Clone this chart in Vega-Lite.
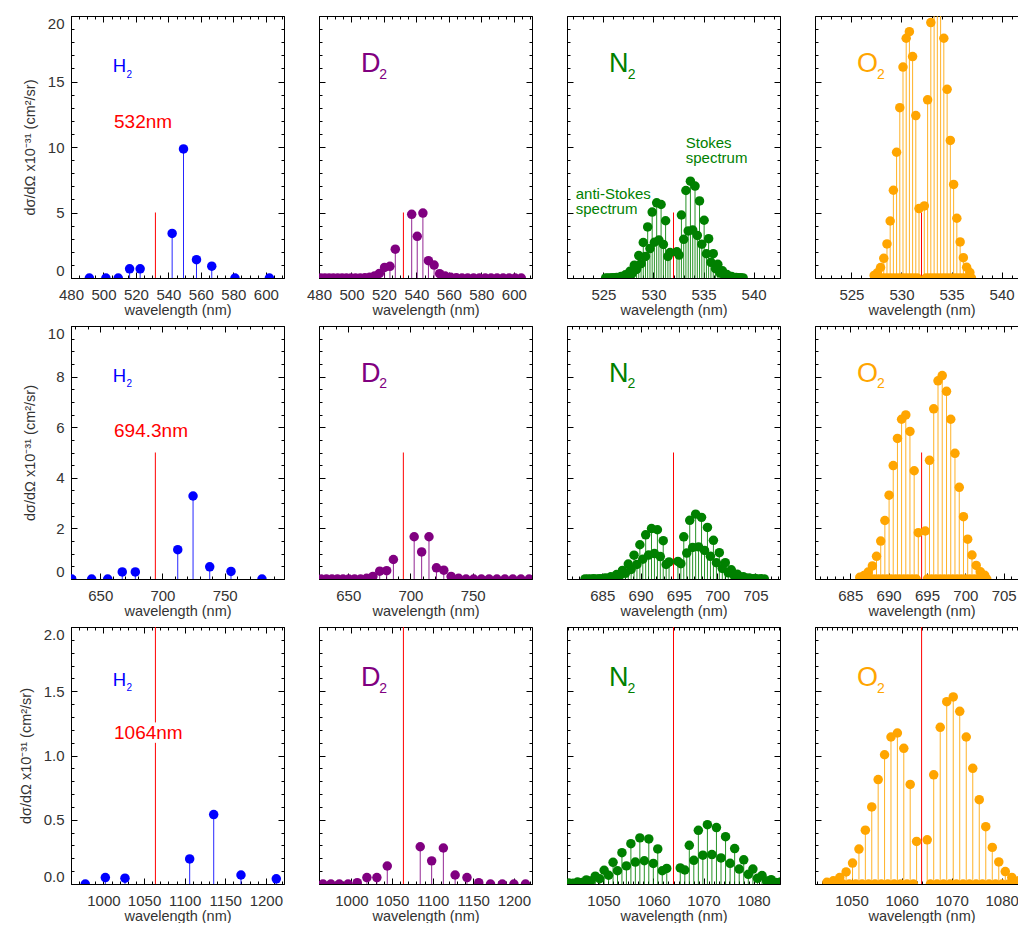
{
"$schema":"https://vega.github.io/schema/vega-lite/v6.json",
"padding":{"left":18,"top":15,"right":0,"bottom":0},
"autosize":{"type":"pad"},
"columns":4,
"spacing":{"row":48,"column":35},
"bounds":"flush",
"config":{
 "view":{"stroke":null},
 "font":"Liberation Sans",
 "rule":{"strokeOpacity":0.85},
 "axis":{"grid":false,"domainColor":"#000","tickColor":"#000","domainOpacity":1,"tickOpacity":1,"labelFont":"Liberation Sans","labelFontSize":15,"labelColor":"#333","titleFont":"Liberation Sans","titleFontSize":14.5,"titleFontWeight":"normal","titleColor":"#333","tickSize":-6,"labelOverlap":false,"labelFlush":false},
 "axisBottom":{"labelPadding":15,"titlePadding":1},
 "axisLeft":{"labelPadding":13,"titlePadding":10}
},
"datasets":{
"h1":[{"x":491.3,"y":0},{"x":501.5,"y":0},{"x":509.1,"y":0},{"x":516.1,"y":0.7},{"x":522.6,"y":0.7},{"x":542.3,"y":3.4},{"x":549.3,"y":9.85},{"x":557.3,"y":1.4},{"x":566.7,"y":0.9},{"x":581,"y":0},{"x":602.2,"y":0}],
"h2":[{"x":627.1,"y":0},{"x":643.1,"y":0},{"x":656,"y":0},{"x":667.7,"y":0.28},{"x":678.2,"y":0.28},{"x":712.3,"y":1.16},{"x":724.6,"y":3.28},{"x":738,"y":0.48},{"x":755.1,"y":0.3},{"x":780,"y":0}],
"h3":[{"x":977.6,"y":0},{"x":1002.3,"y":0.05},{"x":1026.5,"y":0.045},{"x":1106.2,"y":0.195},{"x":1135.8,"y":0.54},{"x":1169.4,"y":0.07},{"x":1212.9,"y":0.04}],
"d1":[{"x":481.1,"y":0},{"x":483.6,"y":0},{"x":486.2,"y":0},{"x":488.8,"y":0},{"x":491.5,"y":0},{"x":494.2,"y":0},{"x":496.9,"y":0},{"x":499.7,"y":0},{"x":502.5,"y":0},{"x":505.4,"y":0.01},{"x":508.3,"y":0.02},{"x":511.2,"y":0.05},{"x":514.2,"y":0.15},{"x":517.2,"y":0.35},{"x":520.4,"y":0.81},{"x":523.7,"y":0.89},{"x":527,"y":2.2},{"x":537.1,"y":4.86},{"x":540.5,"y":3.18},{"x":544,"y":4.96},{"x":547.4,"y":1.32},{"x":550.9,"y":0.99},{"x":554.3,"y":0.33},{"x":557.7,"y":0.15},{"x":561.1,"y":0.05},{"x":564.6,"y":0.02},{"x":568.1,"y":0},{"x":571.6,"y":0},{"x":575.2,"y":0},{"x":578.8,"y":0},{"x":582.4,"y":0},{"x":586,"y":0},{"x":589.7,"y":0},{"x":593.4,"y":0},{"x":597.1,"y":0},{"x":600.8,"y":0},{"x":604.6,"y":0}],
"d2":[{"x":628.2,"y":0},{"x":632.5,"y":0},{"x":636.9,"y":0},{"x":641.3,"y":0},{"x":645.8,"y":0},{"x":650.4,"y":0},{"x":655.1,"y":0},{"x":659.9,"y":0},{"x":664.8,"y":0.03},{"x":669.8,"y":0.1},{"x":675.3,"y":0.31},{"x":680.9,"y":0.33},{"x":686.3,"y":0.77},{"x":703,"y":1.67},{"x":709,"y":1.07},{"x":714.9,"y":1.67},{"x":720.9,"y":0.44},{"x":726.8,"y":0.35},{"x":732.7,"y":0.1},{"x":738.7,"y":0.03},{"x":744.7,"y":0},{"x":750.8,"y":0},{"x":757,"y":0},{"x":763.2,"y":0},{"x":769.5,"y":0},{"x":775.9,"y":0},{"x":782.3,"y":0},{"x":788.8,"y":0},{"x":795.4,"y":0}],
"d3":[{"x":955.7,"y":0},{"x":964.9,"y":0},{"x":974.7,"y":0},{"x":985,"y":0},{"x":995.8,"y":0},{"x":1007.1,"y":0.01},{"x":1019,"y":0.05},{"x":1031.3,"y":0.05},{"x":1044.1,"y":0.14},{"x":1084.7,"y":0.29},{"x":1098.8,"y":0.18},{"x":1113.2,"y":0.28},{"x":1127.7,"y":0.07},{"x":1142.3,"y":0.05},{"x":1156.8,"y":0.01},{"x":1171.3,"y":0},{"x":1185.8,"y":0},{"x":1200.1,"y":0},{"x":1214.4,"y":0}],
"n1":[{"x":532.34,"y":2.0},{"x":532.56,"y":1.75},{"x":532.79,"y":4.81},{"x":533.02,"y":2.95},{"x":533.24,"y":6.68},{"x":533.47,"y":3.59},{"x":533.69,"y":7.39},{"x":533.92,"y":3.66},{"x":534.15,"y":7.02},{"x":534.38,"y":3.25},{"x":534.6,"y":5.88},{"x":534.83,"y":2.58},{"x":535.06,"y":4.41},{"x":535.29,"y":1.85},{"x":535.51,"y":3.0},{"x":535.74,"y":1.2},{"x":535.97,"y":1.86},{"x":536.2,"y":0.71},{"x":536.43,"y":1.05},{"x":536.66,"y":0.38},{"x":536.89,"y":0.55},{"x":537.11,"y":0.19},{"x":537.34,"y":0.26},{"x":537.57,"y":0.086},{"x":537.8,"y":0.11},{"x":538.03,"y":0.036},{"x":538.26,"y":0.045},{"x":538.5,"y":0.014},{"x":538.73,"y":0.016},{"x":538.96,"y":0.005},
{"x":531.66,"y":1.94},{"x":531.44,"y":1.65},{"x":531.21,"y":4.37},{"x":530.99,"y":2.56},{"x":530.76,"y":5.61},{"x":530.54,"y":2.9},{"x":530.32,"y":5.74},{"x":530.09,"y":2.73},{"x":529.87,"y":5.03},{"x":529.65,"y":2.25},{"x":529.42,"y":3.9},{"x":529.2,"y":1.65},{"x":528.98,"y":2.71},{"x":528.76,"y":1.09},{"x":528.53,"y":1.71},{"x":528.31,"y":0.65},{"x":528.09,"y":0.98},{"x":527.87,"y":0.36},{"x":527.65,"y":0.51},{"x":527.42,"y":0.18},{"x":527.2,"y":0.245},{"x":526.98,"y":0.081},{"x":526.76,"y":0.108},{"x":526.54,"y":0.034},{"x":526.32,"y":0.043},{"x":526.1,"y":0.013},{"x":525.88,"y":0.016},{"x":525.66,"y":0.005},{"x":525.44,"y":0.005},{"x":525.22,"y":0.002}],
"n2":[{"x":694.88,"y":0.694},{"x":695.26,"y":0.607},{"x":695.64,"y":1.669},{"x":696.03,"y":1.024},{"x":696.42,"y":2.318},{"x":696.8,"y":1.246},{"x":697.19,"y":2.564},{"x":697.57,"y":1.27},{"x":697.96,"y":2.436},{"x":698.35,"y":1.128},{"x":698.73,"y":2.04},{"x":699.12,"y":0.895},{"x":699.51,"y":1.53},{"x":699.9,"y":0.642},{"x":700.28,"y":1.041},{"x":700.67,"y":0.416},{"x":701.06,"y":0.645},{"x":701.45,"y":0.246},{"x":701.84,"y":0.364},{"x":702.23,"y":0.132},{"x":702.62,"y":0.191},{"x":703.01,"y":0.066},{"x":703.4,"y":0.09},{"x":703.79,"y":0.03},{"x":704.19,"y":0.038},{"x":704.58,"y":0.012},{"x":704.97,"y":0.016},{"x":705.36,"y":0.005},{"x":705.76,"y":0.006},{"x":706.15,"y":0.002},
{"x":693.72,"y":0.673},{"x":693.34,"y":0.573},{"x":692.96,"y":1.516},{"x":692.58,"y":0.888},{"x":692.2,"y":1.947},{"x":691.81,"y":1.006},{"x":691.43,"y":1.992},{"x":691.05,"y":0.947},{"x":690.67,"y":1.745},{"x":690.29,"y":0.781},{"x":689.91,"y":1.353},{"x":689.53,"y":0.573},{"x":689.15,"y":0.94},{"x":688.77,"y":0.378},{"x":688.4,"y":0.593},{"x":688.02,"y":0.226},{"x":687.64,"y":0.34},{"x":687.26,"y":0.125},{"x":686.88,"y":0.177},{"x":686.51,"y":0.062},{"x":686.13,"y":0.085},{"x":685.75,"y":0.028},{"x":685.38,"y":0.037},{"x":685.0,"y":0.012},{"x":684.63,"y":0.015},{"x":684.25,"y":0.005},{"x":683.88,"y":0.006},{"x":683.5,"y":0.002},{"x":683.13,"y":0.002},{"x":682.75,"y":0.001}],
"n3":[{"x":1065.35,"y":0.125},{"x":1066.26,"y":0.109},{"x":1067.16,"y":0.301},{"x":1068.06,"y":0.184},{"x":1068.97,"y":0.418},{"x":1069.87,"y":0.224},{"x":1070.78,"y":0.462},{"x":1071.68,"y":0.229},{"x":1072.59,"y":0.439},{"x":1073.5,"y":0.203},{"x":1074.41,"y":0.368},{"x":1075.32,"y":0.161},{"x":1076.23,"y":0.276},{"x":1077.14,"y":0.116},{"x":1078.05,"y":0.188},{"x":1078.96,"y":0.075},{"x":1079.88,"y":0.116},{"x":1080.79,"y":0.044},{"x":1081.71,"y":0.066},{"x":1082.62,"y":0.024},{"x":1083.54,"y":0.034},{"x":1084.46,"y":0.012},{"x":1085.38,"y":0.016},{"x":1086.3,"y":0.005},
{"x":1062.65,"y":0.121},{"x":1061.75,"y":0.103},{"x":1060.85,"y":0.273},{"x":1059.96,"y":0.16},{"x":1059.06,"y":0.351},{"x":1058.16,"y":0.181},{"x":1057.27,"y":0.359},{"x":1056.37,"y":0.171},{"x":1055.48,"y":0.314},{"x":1054.58,"y":0.141},{"x":1053.69,"y":0.244},{"x":1052.8,"y":0.103},{"x":1051.91,"y":0.169},{"x":1051.02,"y":0.068},{"x":1050.13,"y":0.107},{"x":1049.24,"y":0.041},{"x":1048.36,"y":0.061},{"x":1047.47,"y":0.023},{"x":1046.58,"y":0.032},{"x":1045.7,"y":0.011},{"x":1044.81,"y":0.015},{"x":1043.93,"y":0.005},{"x":1043.04,"y":0.007},{"x":1042.16,"y":0.002}],
"o1":[{"x":532.28,"y":5.5},{"x":532.44,"y":0},{"x":532.61,"y":13.6},{"x":532.77,"y":0},{"x":532.93,"y":19.5},{"x":533.09,"y":0},{"x":533.26,"y":22.7},{"x":533.42,"y":0},{"x":533.58,"y":23.3},{"x":533.74,"y":0},{"x":533.91,"y":21.5},{"x":534.07,"y":0},{"x":534.23,"y":18.3},{"x":534.39,"y":0},{"x":534.56,"y":14.4},{"x":534.72,"y":0},{"x":534.88,"y":10.5},{"x":535.04,"y":0},{"x":535.21,"y":7.14},{"x":535.37,"y":0},{"x":535.53,"y":4.56},{"x":535.69,"y":0},{"x":535.86,"y":2.75},{"x":536.02,"y":0},{"x":536.18,"y":1.55},{"x":536.34,"y":0},{"x":536.51,"y":0.82},{"x":536.67,"y":0},{"x":536.83,"y":0.42},{"x":536.99,"y":0},
{"x":531.75,"y":5.3},{"x":531.59,"y":0},{"x":531.43,"y":12.4},{"x":531.27,"y":0},{"x":531.11,"y":16.9},{"x":530.95,"y":0},{"x":530.79,"y":18.8},{"x":530.63,"y":0},{"x":530.47,"y":18.3},{"x":530.31,"y":0},{"x":530.15,"y":16.1},{"x":529.99,"y":0},{"x":529.83,"y":13.0},{"x":529.67,"y":0},{"x":529.51,"y":9.6},{"x":529.35,"y":0},{"x":529.19,"y":6.7},{"x":529.03,"y":0},{"x":528.87,"y":4.35},{"x":528.71,"y":0},{"x":528.55,"y":2.6},{"x":528.39,"y":0},{"x":528.23,"y":1.5},{"x":528.07,"y":0},{"x":527.91,"y":0.8},{"x":527.75,"y":0},{"x":527.59,"y":0.4},{"x":527.43,"y":0},{"x":527.27,"y":0.2}],
"o2":[{"x":694.78,"y":1.898},{"x":695.05,"y":0},{"x":695.33,"y":4.692},{"x":695.61,"y":0},{"x":695.88,"y":6.728},{"x":696.16,"y":0},{"x":696.44,"y":7.832},{"x":696.72,"y":0},{"x":696.99,"y":8.039},{"x":697.26,"y":0},{"x":697.55,"y":7.418},{"x":697.83,"y":0},{"x":698.1,"y":6.314},{"x":698.37,"y":0},{"x":698.65,"y":4.968},{"x":698.93,"y":0},{"x":699.21,"y":3.623},{"x":699.48,"y":0},{"x":699.76,"y":2.463},{"x":700.04,"y":0},{"x":700.31,"y":1.573},{"x":700.59,"y":0},{"x":700.87,"y":0.949},{"x":701.15,"y":0},{"x":701.42,"y":0.535},{"x":701.69,"y":0},{"x":701.97,"y":0.283},{"x":702.25,"y":0},{"x":702.53,"y":0.145},{"x":702.8,"y":0},
{"x":693.87,"y":1.829},{"x":693.6,"y":0},{"x":693.33,"y":4.278},{"x":693.06,"y":0},{"x":692.78,"y":5.831},{"x":692.51,"y":0},{"x":692.24,"y":6.486},{"x":691.97,"y":0},{"x":691.69,"y":6.314},{"x":691.42,"y":0},{"x":691.15,"y":5.555},{"x":690.88,"y":0},{"x":690.6,"y":4.485},{"x":690.33,"y":0},{"x":690.06,"y":3.312},{"x":689.79,"y":0},{"x":689.51,"y":2.312},{"x":689.24,"y":0},{"x":688.97,"y":1.501},{"x":688.7,"y":0},{"x":688.42,"y":0.897},{"x":688.15,"y":0},{"x":687.88,"y":0.518},{"x":687.61,"y":0},{"x":687.33,"y":0.276},{"x":687.06,"y":0},{"x":686.79,"y":0.138},{"x":686.52,"y":0},{"x":686.24,"y":0.069}],
"o3":[{"x":1065.12,"y":0.344},{"x":1065.76,"y":0},{"x":1066.42,"y":0.85},{"x":1067.08,"y":0},{"x":1067.72,"y":1.219},{"x":1068.36,"y":0},{"x":1069.02,"y":1.419},{"x":1069.68,"y":0},{"x":1070.32,"y":1.456},{"x":1070.96,"y":0},{"x":1071.62,"y":1.344},{"x":1072.28,"y":0},{"x":1072.92,"y":1.144},{"x":1073.56,"y":0},{"x":1074.22,"y":0.9},{"x":1074.88,"y":0},{"x":1075.52,"y":0.656},{"x":1076.16,"y":0},{"x":1076.82,"y":0.446},{"x":1077.48,"y":0},{"x":1078.12,"y":0.285},{"x":1078.76,"y":0},{"x":1079.42,"y":0.172},{"x":1080.08,"y":0},{"x":1080.72,"y":0.097},{"x":1081.36,"y":0},{"x":1082.02,"y":0.051},{"x":1082.68,"y":0},{"x":1083.32,"y":0.026},{"x":1083.96,"y":0},
{"x":1063.0,"y":0.331},{"x":1062.36,"y":0},{"x":1061.72,"y":0.775},{"x":1061.08,"y":0},{"x":1060.44,"y":1.056},{"x":1059.8,"y":0},{"x":1059.16,"y":1.175},{"x":1058.52,"y":0},{"x":1057.88,"y":1.144},{"x":1057.24,"y":0},{"x":1056.6,"y":1.006},{"x":1055.96,"y":0},{"x":1055.32,"y":0.813},{"x":1054.68,"y":0},{"x":1054.04,"y":0.6},{"x":1053.4,"y":0},{"x":1052.76,"y":0.419},{"x":1052.12,"y":0},{"x":1051.48,"y":0.272},{"x":1050.84,"y":0},{"x":1050.2,"y":0.163},{"x":1049.56,"y":0},{"x":1048.92,"y":0.094},{"x":1048.28,"y":0},{"x":1047.64,"y":0.05},{"x":1047.0,"y":0},{"x":1046.36,"y":0.025},{"x":1045.72,"y":0},{"x":1045.08,"y":0.013}]
},
"concat":[
{"width":213,"height":262,"resolve":{"axis":{"x":"independent","y":"independent"}},"layer":[
 {"data":{"values":[{}]},"mark":{"type":"rule","color":"#ff0000","stroke":"#ff0000","strokeOpacity":1,"clip":true},"encoding":{"x":{"datum":532,"type":"quantitative","scale":{"domain":[480,611.2],"nice":false,"zero":false},"axis":{"orient":"bottom","values":[480,485,490,495,500,505,510,515,520,525,530,535,540,545,550,555,560,565,570,575,580,585,590,595,600,605,610],"labels":false,"title":null,"tickSize":-3,"domain":false}},"y":{"datum":0,"type":"quantitative","scale":{"domain":[0,20],"nice":false,"zero":false},"axis":{"orient":"left","values":[0,1,2,3,4,5,6,7,8,9,10,11,12,13,14,15,16,17,18,19,20],"labels":false,"title":null,"tickSize":-3,"domain":false}},"y2":{"datum":5}}},
 {"data":{"name":"h1"},"mark":{"type":"rule","color":"#0000ff","clip":true},"encoding":{"x":{"field":"x","type":"quantitative","axis":{"orient":"top","values":[480,500,520,540,560,580,600],"labels":false,"title":null}},"y":{"field":"y","type":"quantitative","axis":{"orient":"right","values":[0,5,10,15,20],"labels":false,"title":null}},"y2":{"datum":0}}},
 {"data":{"name":"h1"},"mark":{"type":"circle","color":"#0000ff","opacity":1,"size":90,"clip":true},"encoding":{"x":{"field":"x","type":"quantitative","axis":{"orient":"bottom","values":[480,500,520,540,560,580,600],"format":"d","title":"wavelength (nm)"}},"y":{"field":"y","type":"quantitative","axis":{"orient":"left","values":[0,5,10,15,20],"format":"d","labelFlush":true,"title":"dσ/dΩ x10⁻³¹ (cm²/sr)"}}}},
 {"data":{"values":[{}]},"mark":{"type":"text","text":"H","color":"#0000ff","fontSize":18.5,"align":"left","baseline":"alphabetic"},"encoding":{"x":{"datum":505.7,"type":"quantitative","axis":{"orient":"top","values":[480,485,490,495,500,505,510,515,520,525,530,535,540,545,550,555,560,565,570,575,580,585,590,595,600,605,610],"labels":false,"title":null,"tickSize":-3,"domain":false}},"y":{"datum":15.7,"type":"quantitative","axis":{"orient":"right","values":[0,1,2,3,4,5,6,7,8,9,10,11,12,13,14,15,16,17,18,19,20],"labels":false,"title":null,"tickSize":-3,"domain":false}}}},
 {"data":{"values":[{}]},"mark":{"type":"text","text":"2","color":"#0000ff","fontSize":10,"align":"left","baseline":"alphabetic","dx":13.8,"dy":5.3},"encoding":{"x":{"datum":505.7,"type":"quantitative","axis":null},"y":{"datum":15.7,"type":"quantitative","axis":null}}},
 {"data":{"values":[{}]},"mark":{"type":"text","text":"532nm","color":"#ff0000","fontSize":19,"align":"left","baseline":"alphabetic"},"encoding":{"x":{"datum":506.5,"type":"quantitative","axis":null},"y":{"datum":11.45,"type":"quantitative","axis":null}}}
]},
{"width":213,"height":262,"resolve":{"axis":{"x":"independent","y":"independent"}},"layer":[
 {"data":{"values":[{}]},"mark":{"type":"rule","color":"#ff0000","stroke":"#ff0000","strokeOpacity":1,"clip":true},"encoding":{"x":{"datum":532,"type":"quantitative","scale":{"domain":[480,611.2],"nice":false,"zero":false},"axis":{"orient":"bottom","values":[480,485,490,495,500,505,510,515,520,525,530,535,540,545,550,555,560,565,570,575,580,585,590,595,600,605,610],"labels":false,"title":null,"tickSize":-3,"domain":false}},"y":{"datum":0,"type":"quantitative","scale":{"domain":[0,20],"nice":false,"zero":false},"axis":{"orient":"left","values":[0,1,2,3,4,5,6,7,8,9,10,11,12,13,14,15,16,17,18,19,20],"labels":false,"title":null,"tickSize":-3,"domain":false}},"y2":{"datum":5}}},
 {"data":{"name":"d1"},"mark":{"type":"rule","color":"#800080","clip":true},"encoding":{"x":{"field":"x","type":"quantitative","axis":{"orient":"top","values":[480,500,520,540,560,580,600],"labels":false,"title":null}},"y":{"field":"y","type":"quantitative","axis":{"orient":"right","values":[0,5,10,15,20],"labels":false,"title":null}},"y2":{"datum":0}}},
 {"data":{"name":"d1"},"mark":{"type":"circle","color":"#800080","opacity":1,"size":90,"clip":true},"encoding":{"x":{"field":"x","type":"quantitative","axis":{"orient":"bottom","values":[480,500,520,540,560,580,600],"format":"d","title":"wavelength (nm)"}},"y":{"field":"y","type":"quantitative","axis":{"orient":"left","values":[0,5,10,15,20],"labels":false,"title":null}}}},
 {"data":{"values":[{}]},"mark":{"type":"text","text":"D","color":"#800080","fontSize":27,"align":"left","baseline":"alphabetic"},"encoding":{"x":{"datum":505.9,"type":"quantitative","axis":{"orient":"top","values":[480,485,490,495,500,505,510,515,520,525,530,535,540,545,550,555,560,565,570,575,580,585,590,595,600,605,610],"labels":false,"title":null,"tickSize":-3,"domain":false}},"y":{"datum":15.7,"type":"quantitative","axis":{"orient":"right","values":[0,1,2,3,4,5,6,7,8,9,10,11,12,13,14,15,16,17,18,19,20],"labels":false,"title":null,"tickSize":-3,"domain":false}}}},
 {"data":{"values":[{}]},"mark":{"type":"text","text":"2","color":"#800080","fontSize":14,"align":"left","baseline":"alphabetic","dx":18.3,"dy":6.6},"encoding":{"x":{"datum":505.9,"type":"quantitative","axis":null},"y":{"datum":15.7,"type":"quantitative","axis":null}}}
]},
{"width":213,"height":262,"resolve":{"axis":{"x":"independent","y":"independent"}},"layer":[
 {"data":{"values":[{}]},"mark":{"type":"rule","color":"#ff0000","stroke":"#ff0000","strokeOpacity":1,"clip":true},"encoding":{"x":{"datum":532,"type":"quantitative","scale":{"domain":[521.36,542.64],"nice":false,"zero":false},"axis":{"orient":"bottom","values":[522,523,524,525,526,527,528,529,530,531,532,533,534,535,536,537,538,539,540,541,542],"labels":false,"title":null,"tickSize":-3,"domain":false}},"y":{"datum":0,"type":"quantitative","scale":{"domain":[0,20],"nice":false,"zero":false},"axis":{"orient":"left","values":[0,1,2,3,4,5,6,7,8,9,10,11,12,13,14,15,16,17,18,19,20],"labels":false,"title":null,"tickSize":-3,"domain":false}},"y2":{"datum":5}}},
 {"data":{"name":"n1"},"mark":{"type":"rule","color":"#008000","clip":true},"encoding":{"x":{"field":"x","type":"quantitative","axis":{"orient":"top","values":[525,530,535,540],"labels":false,"title":null}},"y":{"field":"y","type":"quantitative","axis":{"orient":"right","values":[0,5,10,15,20],"labels":false,"title":null}},"y2":{"datum":0}}},
 {"data":{"name":"n1"},"mark":{"type":"circle","color":"#008000","opacity":1,"size":90,"clip":true},"encoding":{"x":{"field":"x","type":"quantitative","axis":{"orient":"bottom","values":[525,530,535,540],"format":"d","title":"wavelength (nm)"}},"y":{"field":"y","type":"quantitative","axis":{"orient":"left","values":[0,5,10,15,20],"labels":false,"title":null}}}},
 {"data":{"values":[{}]},"mark":{"type":"text","text":"N","color":"#008000","fontSize":27,"align":"left","baseline":"alphabetic"},"encoding":{"x":{"datum":525.56,"type":"quantitative","axis":{"orient":"top","values":[522,523,524,525,526,527,528,529,530,531,532,533,534,535,536,537,538,539,540,541,542],"labels":false,"title":null,"tickSize":-3,"domain":false}},"y":{"datum":15.7,"type":"quantitative","axis":{"orient":"right","values":[0,1,2,3,4,5,6,7,8,9,10,11,12,13,14,15,16,17,18,19,20],"labels":false,"title":null,"tickSize":-3,"domain":false}}}},
 {"data":{"values":[{}]},"mark":{"type":"text","text":"2","color":"#008000","fontSize":14,"align":"left","baseline":"alphabetic","dx":18.6,"dy":6.6},"encoding":{"x":{"datum":525.56,"type":"quantitative","axis":null},"y":{"datum":15.7,"type":"quantitative","axis":null}}},
 {"data":{"values":[{}]},"mark":{"type":"text","text":["Stokes","spectrum"],"color":"#008000","fontSize":15,"lineHeight":15,"align":"left","baseline":"alphabetic"},"encoding":{"x":{"datum":533.22,"type":"quantitative","axis":null},"y":{"datum":9.95,"type":"quantitative","axis":null}}},
 {"data":{"values":[{}]},"mark":{"type":"text","text":["anti-Stokes","spectrum"],"color":"#008000","fontSize":15,"lineHeight":15,"align":"left","baseline":"alphabetic"},"encoding":{"x":{"datum":522.23,"type":"quantitative","axis":null},"y":{"datum":6.0,"type":"quantitative","axis":null}}}
]},
{"width":204,"height":262,"resolve":{"axis":{"x":"independent","y":"independent"}},"layer":[
 {"data":{"values":[{}]},"mark":{"type":"rule","color":"#ff0000","stroke":"#ff0000","strokeOpacity":1,"clip":true},"encoding":{"x":{"datum":532,"type":"quantitative","scale":{"domain":[521.36,541.74],"nice":false,"zero":false},"axis":{"orient":"bottom","values":[522,523,524,525,526,527,528,529,530,531,532,533,534,535,536,537,538,539,540,541],"labels":false,"title":null,"tickSize":-3,"domain":false}},"y":{"datum":0,"type":"quantitative","scale":{"domain":[0,20],"nice":false,"zero":false},"axis":{"orient":"left","values":[0,1,2,3,4,5,6,7,8,9,10,11,12,13,14,15,16,17,18,19,20],"labels":false,"title":null,"tickSize":-3,"domain":false}},"y2":{"datum":5}}},
 {"data":{"name":"o1"},"mark":{"type":"rule","color":"#ffa500","clip":true},"encoding":{"x":{"field":"x","type":"quantitative","axis":{"orient":"top","values":[525,530,535,540],"labels":false,"title":null}},"y":{"field":"y","type":"quantitative","axis":null},"y2":{"datum":0}}},
 {"data":{"name":"o1"},"mark":{"type":"circle","color":"#ffa500","opacity":1,"size":90,"clip":true},"encoding":{"x":{"field":"x","type":"quantitative","axis":{"orient":"bottom","values":[525,530,535,540],"format":"d","title":"wavelength (nm)","titleX":106.5}},"y":{"field":"y","type":"quantitative","axis":{"orient":"left","values":[0,5,10,15,20],"labels":false,"title":null}}}},
 {"data":{"values":[{}]},"mark":{"type":"text","text":"O","color":"#ffa500","fontSize":27,"align":"left","baseline":"alphabetic"},"encoding":{"x":{"datum":525.56,"type":"quantitative","axis":{"orient":"top","values":[522,523,524,525,526,527,528,529,530,531,532,533,534,535,536,537,538,539,540,541],"labels":false,"title":null,"tickSize":-3,"domain":false}},"y":{"datum":15.7,"type":"quantitative","axis":null}}},
 {"data":{"values":[{}]},"mark":{"type":"text","text":"2","color":"#ffa500","fontSize":14,"align":"left","baseline":"alphabetic","dx":20,"dy":6.6},"encoding":{"x":{"datum":525.56,"type":"quantitative","axis":null},"y":{"datum":15.7,"type":"quantitative","axis":null}}}
]},
{"width":213,"height":253,"resolve":{"axis":{"x":"independent","y":"independent"}},"layer":[
 {"data":{"values":[{}]},"mark":{"type":"rule","color":"#ff0000","stroke":"#ff0000","strokeOpacity":1,"clip":true},"encoding":{"x":{"datum":694.3,"type":"quantitative","scale":{"domain":[626.5,797.7],"nice":false,"zero":false},"axis":{"orient":"bottom","values":[630,640,650,660,670,680,690,700,710,720,730,740,750,760,770,780,790],"labels":false,"title":null,"tickSize":-3,"domain":false}},"y":{"datum":0,"type":"quantitative","scale":{"domain":[0,10],"nice":false,"zero":false},"axis":{"orient":"left","values":[0,0.5,1,1.5,2,2.5,3,3.5,4,4.5,5,5.5,6,6.5,7,7.5,8,8.5,9,9.5,10],"labels":false,"title":null,"tickSize":-3,"domain":false}},"y2":{"datum":5}}},
 {"data":{"name":"h2"},"mark":{"type":"rule","color":"#0000ff","clip":true},"encoding":{"x":{"field":"x","type":"quantitative","axis":{"orient":"top","values":[650,700,750],"labels":false,"title":null}},"y":{"field":"y","type":"quantitative","axis":{"orient":"right","values":[0,2,4,6,8,10],"labels":false,"title":null}},"y2":{"datum":0}}},
 {"data":{"name":"h2"},"mark":{"type":"circle","color":"#0000ff","opacity":1,"size":90,"clip":true},"encoding":{"x":{"field":"x","type":"quantitative","axis":{"orient":"bottom","values":[650,700,750],"format":"d","title":"wavelength (nm)"}},"y":{"field":"y","type":"quantitative","axis":{"orient":"left","values":[0,2,4,6,8,10],"format":"d","labelFlush":true,"title":"dσ/dΩ x10⁻³¹ (cm²/sr)"}}}},
 {"data":{"values":[{}]},"mark":{"type":"text","text":"H","color":"#0000ff","fontSize":18.5,"align":"left","baseline":"alphabetic"},"encoding":{"x":{"datum":660.1,"type":"quantitative","axis":{"orient":"top","values":[630,640,650,660,670,680,690,700,710,720,730,740,750,760,770,780,790],"labels":false,"title":null,"tickSize":-3,"domain":false}},"y":{"datum":7.8,"type":"quantitative","axis":{"orient":"right","values":[0,0.5,1,1.5,2,2.5,3,3.5,4,4.5,5,5.5,6,6.5,7,7.5,8,8.5,9,9.5,10],"labels":false,"title":null,"tickSize":-3,"domain":false}}}},
 {"data":{"values":[{}]},"mark":{"type":"text","text":"2","color":"#0000ff","fontSize":10,"align":"left","baseline":"alphabetic","dx":13.8,"dy":5.3},"encoding":{"x":{"datum":660.1,"type":"quantitative","axis":null},"y":{"datum":7.8,"type":"quantitative","axis":null}}},
 {"data":{"values":[{}]},"mark":{"type":"text","text":"694.3nm","color":"#ff0000","fontSize":19,"align":"left","baseline":"alphabetic"},"encoding":{"x":{"datum":661.1,"type":"quantitative","axis":null},"y":{"datum":5.61,"type":"quantitative","axis":null}}}
]},
{"width":213,"height":253,"resolve":{"axis":{"x":"independent","y":"independent"}},"layer":[
 {"data":{"values":[{}]},"mark":{"type":"rule","color":"#ff0000","stroke":"#ff0000","strokeOpacity":1,"clip":true},"encoding":{"x":{"datum":694.3,"type":"quantitative","scale":{"domain":[626.5,797.7],"nice":false,"zero":false},"axis":{"orient":"bottom","values":[630,640,650,660,670,680,690,700,710,720,730,740,750,760,770,780,790],"labels":false,"title":null,"tickSize":-3,"domain":false}},"y":{"datum":0,"type":"quantitative","scale":{"domain":[0,10],"nice":false,"zero":false},"axis":{"orient":"left","values":[0,0.5,1,1.5,2,2.5,3,3.5,4,4.5,5,5.5,6,6.5,7,7.5,8,8.5,9,9.5,10],"labels":false,"title":null,"tickSize":-3,"domain":false}},"y2":{"datum":5}}},
 {"data":{"name":"d2"},"mark":{"type":"rule","color":"#800080","clip":true},"encoding":{"x":{"field":"x","type":"quantitative","axis":{"orient":"top","values":[650,700,750],"labels":false,"title":null}},"y":{"field":"y","type":"quantitative","axis":{"orient":"right","values":[0,2,4,6,8,10],"labels":false,"title":null}},"y2":{"datum":0}}},
 {"data":{"name":"d2"},"mark":{"type":"circle","color":"#800080","opacity":1,"size":90,"clip":true},"encoding":{"x":{"field":"x","type":"quantitative","axis":{"orient":"bottom","values":[650,700,750],"format":"d","title":"wavelength (nm)"}},"y":{"field":"y","type":"quantitative","axis":{"orient":"left","values":[0,2,4,6,8,10],"labels":false,"title":null}}}},
 {"data":{"values":[{}]},"mark":{"type":"text","text":"D","color":"#800080","fontSize":27,"align":"left","baseline":"alphabetic"},"encoding":{"x":{"datum":660.3,"type":"quantitative","axis":{"orient":"top","values":[630,640,650,660,670,680,690,700,710,720,730,740,750,760,770,780,790],"labels":false,"title":null,"tickSize":-3,"domain":false}},"y":{"datum":7.8,"type":"quantitative","axis":{"orient":"right","values":[0,0.5,1,1.5,2,2.5,3,3.5,4,4.5,5,5.5,6,6.5,7,7.5,8,8.5,9,9.5,10],"labels":false,"title":null,"tickSize":-3,"domain":false}}}},
 {"data":{"values":[{}]},"mark":{"type":"text","text":"2","color":"#800080","fontSize":14,"align":"left","baseline":"alphabetic","dx":18.3,"dy":6.6},"encoding":{"x":{"datum":660.3,"type":"quantitative","axis":null},"y":{"datum":7.8,"type":"quantitative","axis":null}}}
]},
{"width":213,"height":253,"resolve":{"axis":{"x":"independent","y":"independent"}},"layer":[
 {"data":{"values":[{}]},"mark":{"type":"rule","color":"#ff0000","stroke":"#ff0000","strokeOpacity":1,"clip":true},"encoding":{"x":{"datum":694.3,"type":"quantitative","scale":{"domain":[680.4,708.2],"nice":false,"zero":false},"axis":{"orient":"bottom","values":[681,682,683,684,685,686,687,688,689,690,691,692,693,694,695,696,697,698,699,700,701,702,703,704,705,706,707,708],"labels":false,"title":null,"tickSize":-3,"domain":false}},"y":{"datum":0,"type":"quantitative","scale":{"domain":[0,10],"nice":false,"zero":false},"axis":{"orient":"left","values":[0,0.5,1,1.5,2,2.5,3,3.5,4,4.5,5,5.5,6,6.5,7,7.5,8,8.5,9,9.5,10],"labels":false,"title":null,"tickSize":-3,"domain":false}},"y2":{"datum":5}}},
 {"data":{"name":"n2"},"mark":{"type":"rule","color":"#008000","clip":true},"encoding":{"x":{"field":"x","type":"quantitative","axis":{"orient":"top","values":[685,690,695,700,705],"labels":false,"title":null}},"y":{"field":"y","type":"quantitative","axis":{"orient":"right","values":[0,2,4,6,8,10],"labels":false,"title":null}},"y2":{"datum":0}}},
 {"data":{"name":"n2"},"mark":{"type":"circle","color":"#008000","opacity":1,"size":90,"clip":true},"encoding":{"x":{"field":"x","type":"quantitative","axis":{"orient":"bottom","values":[685,690,695,700,705],"format":"d","title":"wavelength (nm)"}},"y":{"field":"y","type":"quantitative","axis":{"orient":"left","values":[0,2,4,6,8,10],"labels":false,"title":null}}}},
 {"data":{"values":[{}]},"mark":{"type":"text","text":"N","color":"#008000","fontSize":27,"align":"left","baseline":"alphabetic"},"encoding":{"x":{"datum":685.88,"type":"quantitative","axis":{"orient":"top","values":[681,682,683,684,685,686,687,688,689,690,691,692,693,694,695,696,697,698,699,700,701,702,703,704,705,706,707,708],"labels":false,"title":null,"tickSize":-3,"domain":false}},"y":{"datum":7.8,"type":"quantitative","axis":{"orient":"right","values":[0,0.5,1,1.5,2,2.5,3,3.5,4,4.5,5,5.5,6,6.5,7,7.5,8,8.5,9,9.5,10],"labels":false,"title":null,"tickSize":-3,"domain":false}}}},
 {"data":{"values":[{}]},"mark":{"type":"text","text":"2","color":"#008000","fontSize":14,"align":"left","baseline":"alphabetic","dx":18.6,"dy":6.6},"encoding":{"x":{"datum":685.88,"type":"quantitative","axis":null},"y":{"datum":7.8,"type":"quantitative","axis":null}}}
]},
{"width":204,"height":253,"resolve":{"axis":{"x":"independent","y":"independent"}},"layer":[
 {"data":{"values":[{}]},"mark":{"type":"rule","color":"#ff0000","stroke":"#ff0000","strokeOpacity":1,"clip":true},"encoding":{"x":{"datum":694.3,"type":"quantitative","scale":{"domain":[680.4,707.0],"nice":false,"zero":false},"axis":{"orient":"bottom","values":[681,682,683,684,685,686,687,688,689,690,691,692,693,694,695,696,697,698,699,700,701,702,703,704,705,706],"labels":false,"title":null,"tickSize":-3,"domain":false}},"y":{"datum":0,"type":"quantitative","scale":{"domain":[0,10],"nice":false,"zero":false},"axis":{"orient":"left","values":[0,0.5,1,1.5,2,2.5,3,3.5,4,4.5,5,5.5,6,6.5,7,7.5,8,8.5,9,9.5,10],"labels":false,"title":null,"tickSize":-3,"domain":false}},"y2":{"datum":5}}},
 {"data":{"name":"o2"},"mark":{"type":"rule","color":"#ffa500","clip":true},"encoding":{"x":{"field":"x","type":"quantitative","axis":{"orient":"top","values":[685,690,695,700,705],"labels":false,"title":null}},"y":{"field":"y","type":"quantitative","axis":null},"y2":{"datum":0}}},
 {"data":{"name":"o2"},"mark":{"type":"circle","color":"#ffa500","opacity":1,"size":90,"clip":true},"encoding":{"x":{"field":"x","type":"quantitative","axis":{"orient":"bottom","values":[685,690,695,700,705],"format":"d","title":"wavelength (nm)","titleX":106.5}},"y":{"field":"y","type":"quantitative","axis":{"orient":"left","values":[0,2,4,6,8,10],"labels":false,"title":null}}}},
 {"data":{"values":[{}]},"mark":{"type":"text","text":"O","color":"#ffa500","fontSize":27,"align":"left","baseline":"alphabetic"},"encoding":{"x":{"datum":685.88,"type":"quantitative","axis":{"orient":"top","values":[681,682,683,684,685,686,687,688,689,690,691,692,693,694,695,696,697,698,699,700,701,702,703,704,705,706],"labels":false,"title":null,"tickSize":-3,"domain":false}},"y":{"datum":7.8,"type":"quantitative","axis":null}}},
 {"data":{"values":[{}]},"mark":{"type":"text","text":"2","color":"#ffa500","fontSize":14,"align":"left","baseline":"alphabetic","dx":20,"dy":6.6},"encoding":{"x":{"datum":685.88,"type":"quantitative","axis":null},"y":{"datum":7.8,"type":"quantitative","axis":null}}}
]},
{"width":213,"height":257,"resolve":{"axis":{"x":"independent","y":"independent"}},"layer":[
 {"data":{"values":[{}]},"mark":{"type":"rule","color":"#ff0000","stroke":"#ff0000","strokeOpacity":1,"clip":true},"encoding":{"x":{"datum":1064,"type":"quantitative","scale":{"domain":[960,1222.4],"nice":false,"zero":false},"axis":{"orient":"bottom","values":[960,970,980,990,1000,1010,1020,1030,1040,1050,1060,1070,1080,1090,1100,1110,1120,1130,1140,1150,1160,1170,1180,1190,1200,1210,1220],"labels":false,"title":null,"tickSize":-3,"domain":false}},"y":{"datum":0,"type":"quantitative","scale":{"domain":[0,2],"nice":false,"zero":false},"axis":{"orient":"left","values":[0,0.1,0.2,0.3,0.4,0.5,0.6,0.7,0.8,0.9,1,1.1,1.2,1.3,1.4,1.5,1.6,1.7,1.8,1.9,2],"labels":false,"title":null,"tickSize":-3,"domain":false}},"y2":{"datum":5}}},
 {"data":{"name":"h3"},"mark":{"type":"rule","color":"#0000ff","clip":true},"encoding":{"x":{"field":"x","type":"quantitative","axis":{"orient":"top","values":[1000,1050,1100,1150,1200],"labels":false,"title":null}},"y":{"field":"y","type":"quantitative","axis":{"orient":"right","values":[0,0.5,1,1.5,2],"labels":false,"title":null}},"y2":{"datum":0}}},
 {"data":{"name":"h3"},"mark":{"type":"circle","color":"#0000ff","opacity":1,"size":90,"clip":true},"encoding":{"x":{"field":"x","type":"quantitative","axis":{"orient":"bottom","values":[1000,1050,1100,1150,1200],"format":"d","title":"wavelength (nm)"}},"y":{"field":"y","type":"quantitative","axis":{"orient":"left","values":[0,0.5,1,1.5,2],"format":".1f","labelFlush":true,"title":"dσ/dΩ x10⁻³¹ (cm²/sr)"}}}},
 {"data":{"values":[{}]},"mark":{"type":"text","text":"H","color":"#0000ff","fontSize":18.5,"align":"left","baseline":"alphabetic"},"encoding":{"x":{"datum":1011.5,"type":"quantitative","axis":{"orient":"top","values":[960,970,980,990,1000,1010,1020,1030,1040,1050,1060,1070,1080,1090,1100,1110,1120,1130,1140,1150,1160,1170,1180,1190,1200,1210,1220],"labels":false,"title":null,"tickSize":-3,"domain":false}},"y":{"datum":1.54,"type":"quantitative","axis":{"orient":"right","values":[0,0.1,0.2,0.3,0.4,0.5,0.6,0.7,0.8,0.9,1,1.1,1.2,1.3,1.4,1.5,1.6,1.7,1.8,1.9,2],"labels":false,"title":null,"tickSize":-3,"domain":false}}}},
 {"data":{"values":[{}]},"mark":{"type":"text","text":"2","color":"#0000ff","fontSize":10,"align":"left","baseline":"alphabetic","dx":13.8,"dy":5.3},"encoding":{"x":{"datum":1011.5,"type":"quantitative","axis":null},"y":{"datum":1.54,"type":"quantitative","axis":null}}},
 {"data":{"values":[{}]},"mark":{"type":"text","text":"1064nm","color":"#ffffff","stroke":"#ffffff","strokeWidth":7,"fontSize":19,"align":"left","baseline":"alphabetic"},"encoding":{"x":{"datum":1013,"type":"quantitative","axis":null},"y":{"datum":1.13,"type":"quantitative","axis":null}}},
 {"data":{"values":[{}]},"mark":{"type":"text","text":"1064nm","color":"#ff0000","fontSize":19,"align":"left","baseline":"alphabetic"},"encoding":{"x":{"datum":1013,"type":"quantitative","axis":null},"y":{"datum":1.13,"type":"quantitative","axis":null}}}
]},
{"width":213,"height":257,"resolve":{"axis":{"x":"independent","y":"independent"}},"layer":[
 {"data":{"values":[{}]},"mark":{"type":"rule","color":"#ff0000","stroke":"#ff0000","strokeOpacity":1,"clip":true},"encoding":{"x":{"datum":1064,"type":"quantitative","scale":{"domain":[960,1222.4],"nice":false,"zero":false},"axis":{"orient":"bottom","values":[960,970,980,990,1000,1010,1020,1030,1040,1050,1060,1070,1080,1090,1100,1110,1120,1130,1140,1150,1160,1170,1180,1190,1200,1210,1220],"labels":false,"title":null,"tickSize":-3,"domain":false}},"y":{"datum":0,"type":"quantitative","scale":{"domain":[0,2],"nice":false,"zero":false},"axis":{"orient":"left","values":[0,0.1,0.2,0.3,0.4,0.5,0.6,0.7,0.8,0.9,1,1.1,1.2,1.3,1.4,1.5,1.6,1.7,1.8,1.9,2],"labels":false,"title":null,"tickSize":-3,"domain":false}},"y2":{"datum":5}}},
 {"data":{"name":"d3"},"mark":{"type":"rule","color":"#800080","clip":true},"encoding":{"x":{"field":"x","type":"quantitative","axis":{"orient":"top","values":[1000,1050,1100,1150,1200],"labels":false,"title":null}},"y":{"field":"y","type":"quantitative","axis":{"orient":"right","values":[0,0.5,1,1.5,2],"labels":false,"title":null}},"y2":{"datum":0}}},
 {"data":{"name":"d3"},"mark":{"type":"circle","color":"#800080","opacity":1,"size":90,"clip":true},"encoding":{"x":{"field":"x","type":"quantitative","axis":{"orient":"bottom","values":[1000,1050,1100,1150,1200],"format":"d","title":"wavelength (nm)"}},"y":{"field":"y","type":"quantitative","axis":{"orient":"left","values":[0,0.5,1,1.5,2],"labels":false,"title":null}}}},
 {"data":{"values":[{}]},"mark":{"type":"text","text":"D","color":"#800080","fontSize":27,"align":"left","baseline":"alphabetic"},"encoding":{"x":{"datum":1011.7,"type":"quantitative","axis":{"orient":"top","values":[960,970,980,990,1000,1010,1020,1030,1040,1050,1060,1070,1080,1090,1100,1110,1120,1130,1140,1150,1160,1170,1180,1190,1200,1210,1220],"labels":false,"title":null,"tickSize":-3,"domain":false}},"y":{"datum":1.54,"type":"quantitative","axis":{"orient":"right","values":[0,0.1,0.2,0.3,0.4,0.5,0.6,0.7,0.8,0.9,1,1.1,1.2,1.3,1.4,1.5,1.6,1.7,1.8,1.9,2],"labels":false,"title":null,"tickSize":-3,"domain":false}}}},
 {"data":{"values":[{}]},"mark":{"type":"text","text":"2","color":"#800080","fontSize":14,"align":"left","baseline":"alphabetic","dx":18.3,"dy":6.6},"encoding":{"x":{"datum":1011.7,"type":"quantitative","axis":null},"y":{"datum":1.54,"type":"quantitative","axis":null}}}
]},
{"width":213,"height":257,"resolve":{"axis":{"x":"independent","y":"independent"}},"layer":[
 {"data":{"values":[{}]},"mark":{"type":"rule","color":"#ff0000","stroke":"#ff0000","strokeOpacity":1,"clip":true},"encoding":{"x":{"datum":1064,"type":"quantitative","scale":{"domain":[1042.7,1085.3],"nice":false,"zero":false},"axis":{"orient":"bottom","values":[1043,1044,1045,1046,1047,1048,1049,1050,1051,1052,1053,1054,1055,1056,1057,1058,1059,1060,1061,1062,1063,1064,1065,1066,1067,1068,1069,1070,1071,1072,1073,1074,1075,1076,1077,1078,1079,1080,1081,1082,1083,1084,1085],"labels":false,"title":null,"tickSize":-3,"domain":false}},"y":{"datum":0,"type":"quantitative","scale":{"domain":[0,2],"nice":false,"zero":false},"axis":{"orient":"left","values":[0,0.1,0.2,0.3,0.4,0.5,0.6,0.7,0.8,0.9,1,1.1,1.2,1.3,1.4,1.5,1.6,1.7,1.8,1.9,2],"labels":false,"title":null,"tickSize":-3,"domain":false}},"y2":{"datum":5}}},
 {"data":{"name":"n3"},"mark":{"type":"rule","color":"#008000","clip":true},"encoding":{"x":{"field":"x","type":"quantitative","axis":{"orient":"top","values":[1050,1060,1070,1080],"labels":false,"title":null}},"y":{"field":"y","type":"quantitative","axis":{"orient":"right","values":[0,0.5,1,1.5,2],"labels":false,"title":null}},"y2":{"datum":0}}},
 {"data":{"name":"n3"},"mark":{"type":"circle","color":"#008000","opacity":1,"size":90,"clip":true},"encoding":{"x":{"field":"x","type":"quantitative","axis":{"orient":"bottom","values":[1050,1060,1070,1080],"format":"d","title":"wavelength (nm)"}},"y":{"field":"y","type":"quantitative","axis":{"orient":"left","values":[0,0.5,1,1.5,2],"labels":false,"title":null}}}},
 {"data":{"values":[{}]},"mark":{"type":"text","text":"N","color":"#008000","fontSize":27,"align":"left","baseline":"alphabetic"},"encoding":{"x":{"datum":1051.1,"type":"quantitative","axis":{"orient":"top","values":[1043,1044,1045,1046,1047,1048,1049,1050,1051,1052,1053,1054,1055,1056,1057,1058,1059,1060,1061,1062,1063,1064,1065,1066,1067,1068,1069,1070,1071,1072,1073,1074,1075,1076,1077,1078,1079,1080,1081,1082,1083,1084,1085],"labels":false,"title":null,"tickSize":-3,"domain":false}},"y":{"datum":1.54,"type":"quantitative","axis":{"orient":"right","values":[0,0.1,0.2,0.3,0.4,0.5,0.6,0.7,0.8,0.9,1,1.1,1.2,1.3,1.4,1.5,1.6,1.7,1.8,1.9,2],"labels":false,"title":null,"tickSize":-3,"domain":false}}}},
 {"data":{"values":[{}]},"mark":{"type":"text","text":"2","color":"#008000","fontSize":14,"align":"left","baseline":"alphabetic","dx":18.6,"dy":6.6},"encoding":{"x":{"datum":1051.1,"type":"quantitative","axis":null},"y":{"datum":1.54,"type":"quantitative","axis":null}}}
]},
{"width":204,"height":257,"resolve":{"axis":{"x":"independent","y":"independent"}},"layer":[
 {"data":{"values":[{}]},"mark":{"type":"rule","color":"#ff0000","stroke":"#ff0000","strokeOpacity":1,"clip":true},"encoding":{"x":{"datum":1064,"type":"quantitative","scale":{"domain":[1042.7,1083.46],"nice":false,"zero":false},"axis":{"orient":"bottom","values":[1043,1044,1045,1046,1047,1048,1049,1050,1051,1052,1053,1054,1055,1056,1057,1058,1059,1060,1061,1062,1063,1064,1065,1066,1067,1068,1069,1070,1071,1072,1073,1074,1075,1076,1077,1078,1079,1080,1081,1082,1083],"labels":false,"title":null,"tickSize":-3,"domain":false}},"y":{"datum":0,"type":"quantitative","scale":{"domain":[0,2],"nice":false,"zero":false},"axis":{"orient":"left","values":[0,0.1,0.2,0.3,0.4,0.5,0.6,0.7,0.8,0.9,1,1.1,1.2,1.3,1.4,1.5,1.6,1.7,1.8,1.9,2],"labels":false,"title":null,"tickSize":-3,"domain":false}},"y2":{"datum":5}}},
 {"data":{"name":"o3"},"mark":{"type":"rule","color":"#ffa500","clip":true},"encoding":{"x":{"field":"x","type":"quantitative","axis":{"orient":"top","values":[1050,1060,1070,1080],"labels":false,"title":null}},"y":{"field":"y","type":"quantitative","axis":null},"y2":{"datum":0}}},
 {"data":{"name":"o3"},"mark":{"type":"circle","color":"#ffa500","opacity":1,"size":90,"clip":true},"encoding":{"x":{"field":"x","type":"quantitative","axis":{"orient":"bottom","values":[1050,1060,1070,1080],"format":"d","title":"wavelength (nm)","titleX":106.5}},"y":{"field":"y","type":"quantitative","axis":{"orient":"left","values":[0,0.5,1,1.5,2],"labels":false,"title":null}}}},
 {"data":{"values":[{}]},"mark":{"type":"text","text":"O","color":"#ffa500","fontSize":27,"align":"left","baseline":"alphabetic"},"encoding":{"x":{"datum":1051.1,"type":"quantitative","axis":{"orient":"top","values":[1043,1044,1045,1046,1047,1048,1049,1050,1051,1052,1053,1054,1055,1056,1057,1058,1059,1060,1061,1062,1063,1064,1065,1066,1067,1068,1069,1070,1071,1072,1073,1074,1075,1076,1077,1078,1079,1080,1081,1082,1083],"labels":false,"title":null,"tickSize":-3,"domain":false}},"y":{"datum":1.54,"type":"quantitative","axis":null}}},
 {"data":{"values":[{}]},"mark":{"type":"text","text":"2","color":"#ffa500","fontSize":14,"align":"left","baseline":"alphabetic","dx":20,"dy":6.6},"encoding":{"x":{"datum":1051.1,"type":"quantitative","axis":null},"y":{"datum":1.54,"type":"quantitative","axis":null}}}
]}
]
}
